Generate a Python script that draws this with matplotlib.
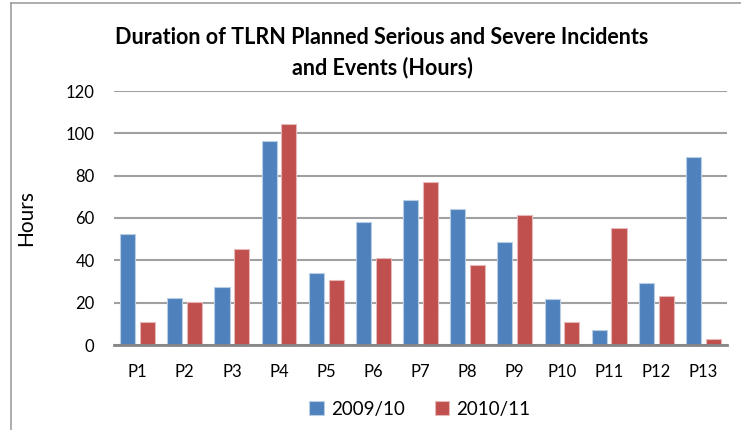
import matplotlib.pyplot as plt
from matplotlib.lines import Line2D
import numpy as np

# Style
BLUE = '#4F81BD'
RED = '#C0504D'
GRID = '#A0A0A0'
AXIS = '#868686'
plt.rcParams['font.family'] = ['Lato', 'DejaVu Sans']

# Data
periods = ['P1', 'P2', 'P3', 'P4', 'P5', 'P6', 'P7', 'P8', 'P9', 'P10', 'P11', 'P12', 'P13']
hours_0910 = [52.3, 22.2, 27.2, 96.5, 34.2, 58.0, 68.3, 64.3, 48.8, 21.6, 6.9, 29.3, 88.8]
hours_1011 = [11.0, 20.3, 45.4, 104.3, 30.6, 41.1, 76.9, 37.6, 61.6, 11.0, 55.3, 23.0, 2.7]
series_names = ['2009/10', '2010/11']

fig = plt.figure(figsize=(7.41, 4.30), dpi=100)
ax = fig.add_axes([114 / 741, 1 - 345 / 430, (727 - 114) / 741, (345 - 91) / 430])

x = np.arange(len(periods))
w = 0.32
ax.bar(x - 0.21, hours_0910, width=w, color=BLUE, edgecolor='#B9CDE5', linewidth=0.8,
       label=series_names[0], zorder=3)
ax.bar(x + 0.21, hours_1011, width=w, color=RED, edgecolor='#E6B9B8', linewidth=0.8,
       label=series_names[1], zorder=3)

ax.set_xlim(-0.5, len(periods) - 0.5)
ax.set_ylim(0, 120)
ax.set_yticks(range(0, 121, 20))
ax.set_xticks(x)
ax.set_xticklabels(periods)
ax.yaxis.grid(True, color=GRID, linewidth=1.5, zorder=0)
ax.tick_params(axis='both', length=0, labelsize=12, colors='#000000')
ax.tick_params(axis='y', pad=14)
ax.tick_params(axis='x', pad=14)

for s in ['left', 'right', 'top']:
    ax.spines[s].set_visible(False)
ax.spines['bottom'].set_color(AXIS)
ax.spines['bottom'].set_linewidth(2)
ax.spines['bottom'].set_zorder(4)

ax.set_ylabel('Hours', fontsize=15)
ax.yaxis.set_label_coords(-78 / 613, 0.5)

fig.text(382 / 741, 1 - 38 / 430, 'Duration of TLRN Planned Serious and Severe Incidents',
         ha='center', va='center', fontsize=15.5, fontweight='bold')
fig.text(382 / 741, 1 - 68 / 430, 'and Events (Hours)',
         ha='center', va='center', fontsize=15.5, fontweight='bold')

fig.legend(loc='center', bbox_to_anchor=(420 / 741, 1 - 409 / 430), ncol=2, frameon=False,
           fontsize=13.5, handlelength=0.75, handleheight=0.75, handletextpad=0.4,
           columnspacing=1.6)

# chart frame (partially visible)
fig.add_artist(Line2D([11 / 741, 11 / 741], [0, 1 - 3 / 430], color='#A0A0A0', linewidth=1.2))
fig.add_artist(Line2D([11 / 741, 1], [1 - 3 / 430, 1 - 3 / 430], color='#A0A0A0', linewidth=1.2))

fig.savefig('out.png', dpi=100)
